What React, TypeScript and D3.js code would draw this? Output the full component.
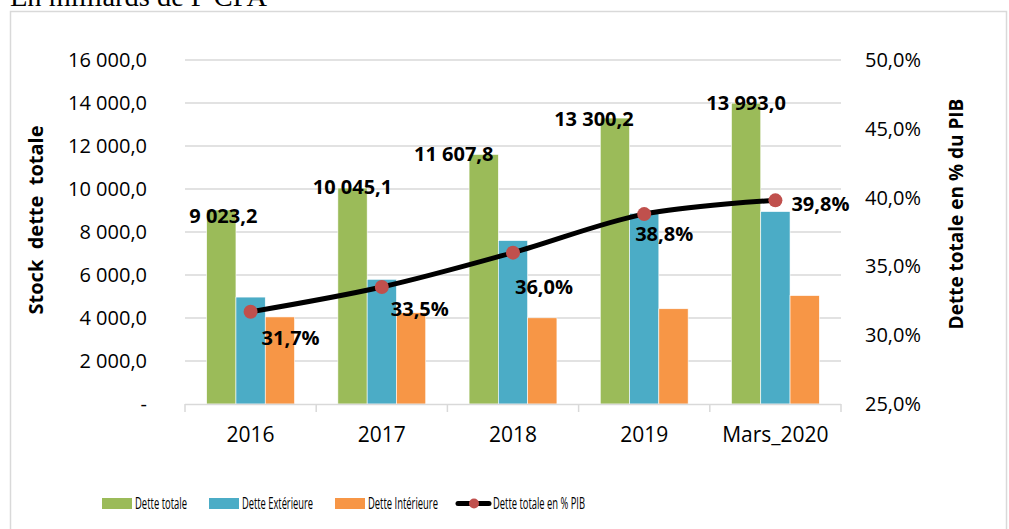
import * as d3 from "d3"
import { useRef, useEffect } from "react"

const years = ["2016", "2017", "2018", "2019", "Mars_2020"]
const detteTotale = [9023.2, 10045.1, 11607.8, 13300.2, 13993.0]
const detteExterieure = [4973, 5800, 7600, 8870, 8950]
const detteInterieure = [4050, 4245, 4008, 4430, 5043]
const pctPib = [31.7, 33.5, 36.0, 38.8, 39.8]
const leftTicks = [0, 2000, 4000, 6000, 8000, 10000, 12000, 14000, 16000]
const rightTicks = [25, 30, 35, 40, 45, 50]
const seriesNames = ["Dette totale", "Dette Extérieure", "Dette Intérieure", "Dette totale en % PIB"]
const colors = ["#9bbb59", "#4bacc6", "#f79646"]

// manual nudges of the value labels (Excel placement)
const totalLabelDx = [2, 0, -30, -21, 0]
const totalLabelDy = [13, 6, 7, 8, 7]
const pctDx = [11, 9, 2, -9, 16]
const pctDy = [33, 29, 41, 27, 11]

const fr = d3.formatLocale({ decimal: ",", thousands: "\u00a0", grouping: [3], currency: ["", ""] })
const fmt1 = fr.format(",.1f")
const fmtPct = (d: number) => fr.format(".1f")(d) + "%"

const App = () => {
  const svgRef = useRef<SVGSVGElement>(null)
  const width = 1009
  const height = 529
  const left = 185
  const right = 841
  const top = 60
  const bottom = 404
  const font = "'Open Sans', sans-serif"

  useEffect(() => {
    const svg = d3.select(svgRef.current)
    svg.selectAll("*").remove()

    // title (cut at top, like the source image)
    svg
      .append("text")
      .attr("x", 10)
      .attr("y", 6)
      .attr("font-family", "'Liberation Serif', serif")
      .attr("font-size", "28px")
      .attr("textLength", 257)
      .attr("lengthAdjust", "spacingAndGlyphs")
      .text("En milliards de F CFA")

    // frame
    svg
      .append("rect")
      .attr("x", 10.5)
      .attr("y", 11.5)
      .attr("width", 996)
      .attr("height", 530)
      .attr("fill", "none")
      .attr("stroke", "#d9d9d9")
      .attr("stroke-width", 1.5)

    const x = d3.scaleBand().domain(years).range([left, right])
    const inner = d3
      .scaleBand()
      .domain(["t", "e", "i"])
      .range([0, x.bandwidth()])
      .paddingOuter(0.74)
    const y = d3.scaleLinear().domain([0, 16000]).range([bottom, top])
    const y2 = d3.scaleLinear().domain([25, 50]).range([bottom, top])

    // gridlines
    svg
      .append("g")
      .selectAll("line")
      .data(leftTicks.slice(1))
      .join("line")
      .attr("x1", left)
      .attr("x2", right)
      .attr("y1", (d) => y(d))
      .attr("y2", (d) => y(d))
      .attr("stroke", "#d9d9d9")
      .attr("stroke-width", 1.5)

    // left axis labels
    svg
      .append("g")
      .selectAll("text")
      .data(leftTicks)
      .join("text")
      .attr("x", 147)
      .attr("y", (d) => y(d) + 7)
      .attr("text-anchor", "end")
      .attr("font-family", font)
      .attr("font-size", "20px")
      .attr("fill", "#000")
      .text((d) => (d === 0 ? "-" : fmt1(d)))

    // right axis labels
    svg
      .append("g")
      .selectAll("text")
      .data(rightTicks)
      .join("text")
      .attr("x", 865)
      .attr("y", (d) => y2(d) + 7)
      .attr("font-family", font)
      .attr("font-size", "20px")
      .text((d) => fmtPct(d))

    // bars
    const series = [detteTotale, detteExterieure, detteInterieure]
    const keys = ["t", "e", "i"]
    series.forEach((vals, si) => {
      svg
        .append("g")
        .selectAll("rect")
        .data(vals)
        .join("rect")
        .attr("x", (d, i) => x(years[i])! + inner(keys[si])!)
        .attr("y", (d) => y(d))
        .attr("width", inner.bandwidth())
        .attr("height", (d) => bottom - y(d))
        .attr("fill", colors[si])
        .attr("stroke", "#fff")
        .attr("stroke-width", 0.6)
    })

    // x axis
    svg
      .append("line")
      .attr("x1", left)
      .attr("x2", right)
      .attr("y1", bottom + 0.5)
      .attr("y2", bottom + 0.5)
      .attr("stroke", "#d9d9d9")
      .attr("stroke-width", 1.5)
    svg
      .append("g")
      .selectAll("line")
      .data([...years.map((d) => x(d)!), right])
      .join("line")
      .attr("x1", (d) => d)
      .attr("x2", (d) => d)
      .attr("y1", bottom)
      .attr("y2", bottom + 8)
      .attr("stroke", "#d9d9d9")
      .attr("stroke-width", 1.5)
    svg
      .append("g")
      .selectAll("text")
      .data(years)
      .join("text")
      .attr("x", (d) => x(d)! + x.bandwidth() / 2)
      .attr("y", 442)
      .attr("text-anchor", "middle")
      .attr("font-family", font)
      .attr("font-size", "21px")
      .text((d) => d)

    // total value labels
    svg
      .append("g")
      .selectAll("text")
      .data(detteTotale)
      .join("text")
      .attr("x", (d, i) => x(years[i])! + inner("t")! + inner.bandwidth() / 2 + totalLabelDx[i])
      .attr("y", (d, i) => y(d) + totalLabelDy[i])
      .attr("text-anchor", "middle")
      .attr("font-family", font)
      .attr("font-weight", "bold")
      .attr("font-size", "20px")
      .text((d) => fmt1(d))

    // line
    const cx = (i: number) => x(years[i])! + x.bandwidth() / 2
    const line = d3
      .line<number>()
      .x((d, i) => cx(i))
      .y((d) => y2(d))
      .curve(d3.curveCatmullRom.alpha(0.5))
    svg
      .append("path")
      .datum(pctPib)
      .attr("d", line)
      .attr("fill", "none")
      .attr("stroke", "#000")
      .attr("stroke-width", 5)
      .attr("stroke-linecap", "round")
    svg
      .append("g")
      .selectAll("circle")
      .data(pctPib)
      .join("circle")
      .attr("cx", (d, i) => cx(i))
      .attr("cy", (d) => y2(d))
      .attr("r", 7)
      .attr("fill", "#c0504d")

    // pct labels
    svg
      .append("g")
      .selectAll("text")
      .data(pctPib)
      .join("text")
      .attr("x", (d, i) => cx(i) + pctDx[i])
      .attr("y", (d, i) => y2(d) + pctDy[i])
      .attr("font-family", font)
      .attr("font-weight", "bold")
      .attr("font-size", "20px")
      .text((d) => fmtPct(d))

    // axis titles
    svg
      .append("text")
      .attr("transform", "translate(43, 220) rotate(-90)")
      .attr("text-anchor", "middle")
      .attr("font-family", font)
      .attr("font-weight", "bold")
      .attr("font-size", "20px")
      .style("white-space", "pre")
      .text("Stock  dette  totale")
    svg
      .append("text")
      .attr("transform", "translate(963, 214) rotate(-90)")
      .attr("text-anchor", "middle")
      .attr("font-family", font)
      .attr("font-weight", "bold")
      .attr("font-size", "19px")
      .text("Dette totale en % du PIB")

    // legend
    const legX = [102, 209, 335, 458]
    const legW = [52, 71, 70, 92]
    const lg = svg.append("g")
    seriesNames.forEach((name, i) => {
      if (i < 3) {
        lg.append("rect")
          .attr("x", legX[i])
          .attr("y", 498)
          .attr("width", 30)
          .attr("height", 11)
          .attr("fill", colors[i])
      } else {
        lg.append("line")
          .attr("x1", legX[i])
          .attr("x2", legX[i] + 31)
          .attr("y1", 503.5)
          .attr("y2", 503.5)
          .attr("stroke", "#000")
          .attr("stroke-width", 5)
          .attr("stroke-linecap", "round")
        lg.append("circle")
          .attr("cx", legX[i] + 16)
          .attr("cy", 503.5)
          .attr("r", 5)
          .attr("fill", "#c0504d")
      }
      lg.append("text")
        .attr("x", legX[i] + (i < 3 ? 33 : 35))
        .attr("y", 509)
        .attr("font-family", font)
        .attr("font-size", "16px")
        .attr("textLength", legW[i])
        .attr("lengthAdjust", "spacingAndGlyphs")
        .text(name)
    })
  }, [])

  return (
    <div style={{ position: "absolute", left: 0, top: 0 }}>
      <svg ref={svgRef} width={width} height={height} style={{ display: "block", background: "#fff" }}></svg>
    </div>
  )
}

export default App
